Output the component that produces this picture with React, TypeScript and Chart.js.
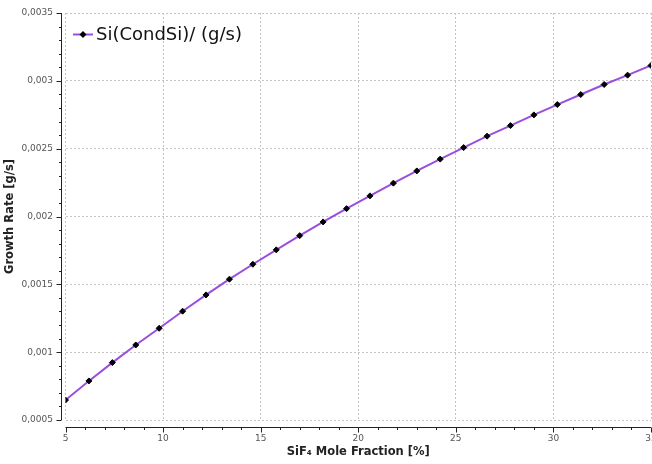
import React, { useEffect, useRef } from "react";
import { Chart, registerables } from "chart.js";

Chart.register(...registerables);

const seriesLabel = "Si(CondSi)/ (g/s)";
const xTitle = "SiF\u2084 Mole Fraction [%]";
const yTitle = "Growth Rate [g/s]";

const moleFraction = [5, 6.2, 7.4, 8.6, 9.8, 11, 12.2, 13.4, 14.6, 15.8, 17, 18.2, 19.4, 20.6, 21.8, 23, 24.2, 25.4, 26.6, 27.8, 29, 30.2, 31.4, 32.6, 33.8, 35];
const growthRate = [0.000647, 0.000788, 0.000923, 0.001053, 0.001176, 0.001302, 0.001422, 0.001538, 0.001648, 0.001754, 0.001859, 0.00196, 0.002058, 0.002152, 0.002246, 0.002336, 0.002423, 0.002508, 0.002592, 0.00267, 0.002749, 0.002825, 0.002899, 0.002973, 0.003042, 0.003113];

const xMin = 5, xMax = 35, xStep = 5, xMinorStep = 1;
const yMin = 0.0005, yMax = 0.0035, yStep = 0.0005, yMinorStep = 0.0001;

const lineColor = "#9a4ee0";
const pointColor = "#000000";
const gridColor = "#c4c4c4";
const axisColor = "#222222";
const tickColor = "#555555";

const fmtY = (v: number) => {
  const s = Number(v.toFixed(6)).toString();
  return s.replace(".", ",");
};

const axesPlugin = {
  id: "offsetAxes",
  afterDraw(chart: any) {
    const ctx = chart.ctx;
    const { left, bottom } = chart.chartArea;
    const xs = chart.scales.x;
    const ys = chart.scales.y;
    ctx.save();
    ctx.strokeStyle = axisColor;
    ctx.lineWidth = 1;
    // y axis
    const ax = Math.round(left - 4.5) + 0.5;
    ctx.beginPath();
    ctx.moveTo(ax, ys.getPixelForValue(yMax));
    ctx.lineTo(ax, ys.getPixelForValue(yMin));
    const nY = Math.round((yMax - yMin) / yMinorStep);
    for (let i = 0; i <= nY; i++) {
      const v = yMin + i * yMinorStep;
      const py = Math.round(ys.getPixelForValue(v)) + 0.5;
      const len = i % 5 === 0 ? 5 : 2.5;
      ctx.moveTo(ax - len, py);
      ctx.lineTo(ax, py);
    }
    ctx.stroke();
    // x axis
    const ay = Math.round(bottom + 6.5) + 0.5;
    ctx.beginPath();
    ctx.moveTo(xs.getPixelForValue(xMin), ay);
    ctx.lineTo(xs.getPixelForValue(xMax), ay);
    const nX = Math.round((xMax - xMin) / xMinorStep);
    for (let i = 0; i <= nX; i++) {
      const v = xMin + i * xMinorStep;
      const px = Math.round(xs.getPixelForValue(v)) + 0.5;
      const len = i % 5 === 0 ? 5 : 2.5;
      ctx.moveTo(px, ay);
      ctx.lineTo(px, ay + len);
    }
    ctx.stroke();
    ctx.restore();

    // legend inside plot
    ctx.save();
    const ly = 34.5;
    ctx.strokeStyle = lineColor;
    ctx.lineWidth = 2;
    ctx.beginPath();
    ctx.moveTo(73, ly);
    ctx.lineTo(93, ly);
    ctx.stroke();
    ctx.fillStyle = pointColor;
    ctx.beginPath();
    ctx.moveTo(83, ly - 3.5);
    ctx.lineTo(86.5, ly);
    ctx.lineTo(83, ly + 3.5);
    ctx.lineTo(79.5, ly);
    ctx.closePath();
    ctx.fill();
    ctx.fillStyle = "#111111";
    ctx.font = "18px 'DejaVu Sans'";
    ctx.textBaseline = "middle";
    ctx.textAlign = "left";
    ctx.fillText(seriesLabel, 96, ly + 1);
    ctx.restore();
  },
};

export default function App() {
  const ref = useRef<HTMLCanvasElement | null>(null);
  useEffect(() => {
    if (!ref.current) return;
    const chart = new Chart(ref.current, {
      type: "line",
      data: {
        datasets: [
          {
            label: seriesLabel,
            data: moleFraction.map((x, i) => ({ x, y: growthRate[i] })),
            borderColor: lineColor,
            borderWidth: 2,
            backgroundColor: pointColor,
            pointBackgroundColor: pointColor,
            pointBorderColor: pointColor,
            pointBorderWidth: 1,
            pointStyle: "rectRot",
            pointRadius: 3,
            tension: 0,
            fill: false,
          },
        ],
      },
      options: {
        animation: false,
        responsive: false,
        maintainAspectRatio: false,
        layout: { autoPadding: false, padding: { top: 13, right: 1, left: 0, bottom: 0 } },
        plugins: { legend: { display: false }, tooltip: { enabled: false }, title: { display: false } },
        scales: {
          x: {
            type: "linear",
            min: xMin,
            max: xMax,
            afterFit: (s: any) => { s.height = 44; s.paddingLeft = 0; s.paddingRight = 0; },
            grid: { color: gridColor, drawTicks: false, lineWidth: 1 },
            border: { display: false, dash: [2, 2] },
            ticks: {
              stepSize: xStep,
              padding: 13,
              color: tickColor,
              font: { family: "'DejaVu Sans'", size: 9 },
              maxRotation: 0,
              autoSkip: false,
              callback: (v: any) => String(v),
            },
            title: {
              display: true,
              text: xTitle,
              color: "#222222",
              font: { family: "'DejaVu Sans'", size: 11.5, weight: "bold" },
              padding: { top: 0, bottom: 5 },
            },
          },
          y: {
            type: "linear",
            min: yMin,
            max: yMax,
            afterFit: (s: any) => { s.width = 65.5; s.paddingTop = 0; s.paddingBottom = 0; },
            grid: { color: gridColor, drawTicks: false, lineWidth: 1 },
            border: { display: false, dash: [2, 2] },
            ticks: {
              stepSize: yStep,
              padding: 12.5,
              color: tickColor,
              font: { family: "'DejaVu Sans'", size: 9 },
              autoSkip: false,
              callback: (v: any) => fmtY(Number(v)),
            },
            title: {
              display: true,
              text: yTitle,
              color: "#222222",
              font: { family: "'DejaVu Sans'", size: 11.5, weight: "bold" },
              padding: { top: 3, bottom: 0 },
            },
          },
        },
      } as any,
      plugins: [axesPlugin],
    });
    return () => chart.destroy();
  }, []);
  return (
    <div style={{ position: "fixed", left: 0, top: 0, width: 652, height: 464, background: "#fff" }}>
      <canvas ref={ref} width={652} height={464} style={{ display: "block" }} />
    </div>
  );
}
